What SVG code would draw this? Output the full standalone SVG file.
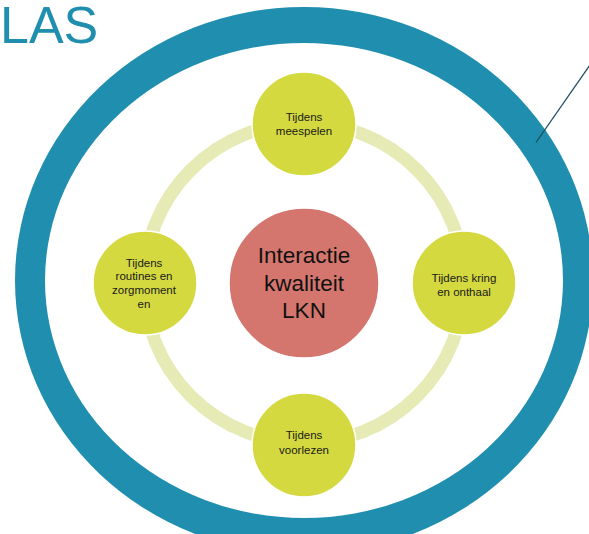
<svg xmlns="http://www.w3.org/2000/svg" width="589" height="534" viewBox="0 0 589 534">
<style>
.sat{fill:#d4d940;stroke:#ffffff;stroke-width:1.5}
.core{fill:#d4766d;stroke:#ffffff;stroke-width:1.5}
.st{font-family:"Liberation Sans",Arial,sans-serif;font-size:11.5px;fill:#1a1a1a;text-anchor:middle}
.ct{font-family:"Liberation Sans",Arial,sans-serif;font-size:22.5px;fill:#111111;text-anchor:middle}
</style>
<rect width="589" height="534" fill="#ffffff"/>
<g id="outer-ring">
<path fill="#1f8eaf" fill-rule="evenodd" d="M15,280.5 a289,273.5 0 1,0 578,0 a289,273.5 0 1,0 -578,0 Z M45,280.5 a259,237.5 0 1,0 518,0 a259,237.5 0 1,0 -518,0 Z"/>
</g>
<text id="title" x="0" y="43" font-family="Liberation Sans,Arial,sans-serif" font-size="52" fill="#1f8eaf">LAS</text>
<line id="pointer" x1="536" y1="142.5" x2="590" y2="65" stroke="#1e4d5e" stroke-width="1.3"/>
<g id="connectors">
<circle cx="304" cy="283" r="160" fill="none" stroke="#e6eab4" stroke-width="13"/>
</g>
<g id="node-center">
<circle class="core" cx="304" cy="283" r="75"/>
<text class="ct" x="304" y="263">Interactie</text>
<text class="ct" x="304" y="290.5">kwaliteit</text>
<text class="ct" x="304" y="318">LKN</text>
</g>
<g id="node-top">
<circle class="sat" cx="304" cy="124" r="52"/>
<text class="st" x="304" y="121">Tijdens</text>
<text class="st" x="304" y="134.5">meespelen</text>
</g>
<g id="node-right">
<circle class="sat" cx="464" cy="283" r="52"/>
<text class="st" x="464" y="282">Tijdens kring</text>
<text class="st" x="464" y="295.5">en onthaal</text>
</g>
<g id="node-bottom">
<circle class="sat" cx="304" cy="445" r="52"/>
<text class="st" x="304" y="439">Tijdens</text>
<text class="st" x="304" y="453.5">voorlezen</text>
</g>
<g id="node-left">
<circle class="sat" cx="145" cy="283" r="52"/>
<text class="st" x="144" y="266.5">Tijdens</text>
<text class="st" x="144" y="280.2">routines en</text>
<text class="st" x="144" y="294">zorgmoment</text>
<text class="st" x="144" y="307.7">en</text>
</g>
</svg>
